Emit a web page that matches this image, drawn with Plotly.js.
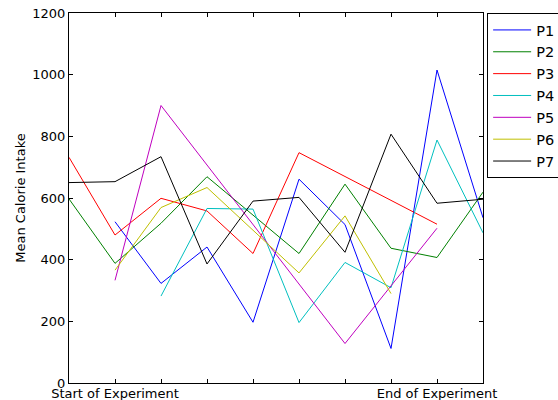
<!DOCTYPE html>
<html>
<head>
<meta charset="utf-8">
<script src="https://cdn.plot.ly/plotly-3.0.1.min.js"></script>
<style>html,body{margin:0;padding:0;background:#fff;}#chart{width:558px;height:400px;}</style>
</head>
<body>
<div id="chart"></div>
<script>
const xIndex = [0, 1, 2, 3, 4, 5, 6, 7, 8, 9];
const tickLabels = ['', 'Start of Experiment', '', '', '', '', '', '', 'End of Experiment', ''];
const seriesNames = ['P1', 'P2', 'P3', 'P4', 'P5', 'P6', 'P7'];
const p1 = [null, 523, 323, 441, 197, 661, 514, 112, 1015, 536];
const p2 = [597, 388, 518, 669, null, 420, 645, 437, 407, 619];
const p3 = [732, 480, 599, 558, 420, 747, null, null, 515, null];
const p4 = [null, null, 282, 566, 564, 196, 391, 309, 788, 487];
const p5 = [null, 333, 900, null, null, null, 128, null, 502, null];
const p6 = [null, 366, 569, 634, null, 357, 542, 290, null, null];
const p7 = [650, 653, 734, 386, 590, 602, 424, 807, 583, 596];
const seriesValues = [p1, p2, p3, p4, p5, p6, p7];
const colors = ['#0000ff', '#008000', '#ff0000', '#00bfbf', '#bf00bf', '#bfbf00', '#000000'];

const traces = seriesNames.map((n, i) => ({
  x: xIndex, y: seriesValues[i], name: n, type: 'scatter', mode: 'lines',
  connectgaps: true, line: {color: colors[i], width: 1}
}));

const font = {family: 'DejaVu Sans, sans-serif', size: 13, color: '#000'};
const layout = {
  width: 558, height: 400,
  margin: {l: 69, r: 75, t: 13, b: 17, autoexpand: false},
  paper_bgcolor: '#fff', plot_bgcolor: '#fff',
  font: font,
  showlegend: true,
  legend: {x: 1.01, xanchor: 'left', y: 1, yanchor: 'top', bordercolor: '#000', borderwidth: 1,
           itemwidth: 38, font: {family: 'DejaVu Sans, sans-serif', size: 14.5, color: '#000'}, bgcolor: '#fff'},
  xaxis: {range: [0, 9], tickmode: 'array', tickvals: xIndex, ticktext: tickLabels,
          ticks: 'inside', ticklen: 4, tickcolor: '#000', showline: true, linecolor: '#000', linewidth: 1,
          mirror: 'ticks', showgrid: false, zeroline: false, tickfont: {size: 13}, ticklabelstandoff: -2},
  yaxis: {range: [0, 1200], dtick: 200, ticks: 'inside', ticklen: 4, tickcolor: '#000',
          showline: true, linecolor: '#000', linewidth: 1, mirror: 'ticks', showgrid: false, zeroline: false,
          title: {text: 'Mean Calorie Intake', font: {size: 13}, standoff: 3}, tickfont: {size: 13}}
};
Plotly.newPlot('chart', traces, layout, {displayModeBar: false, staticPlot: true});
</script>
</body>
</html>
